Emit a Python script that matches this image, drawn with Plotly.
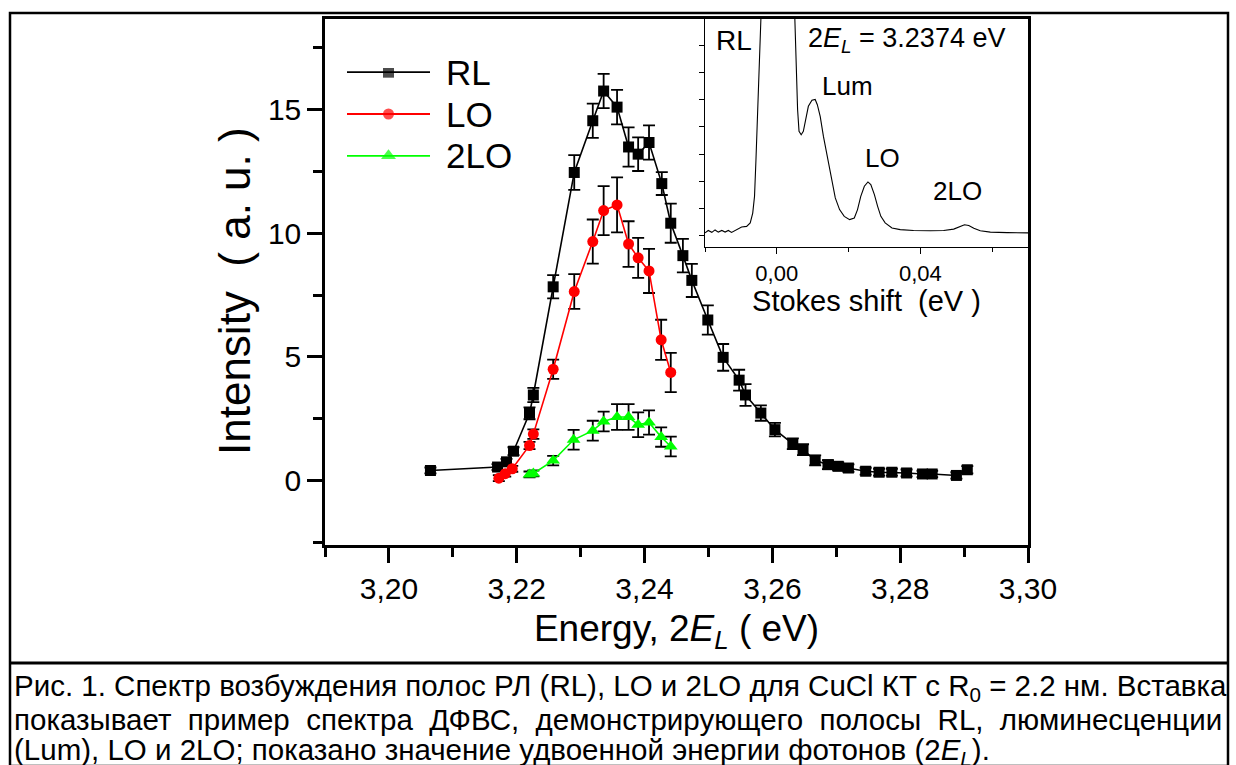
import plotly.graph_objects as go

W, H = 1236, 765

# main spectrum data
rl_x = [3.2065, 3.2170, 3.2184, 3.2195, 3.2220, 3.2226, 3.2257, 3.2290, 3.2319, 3.2336,
        3.2357, 3.2375, 3.2390, 3.2407, 3.2427, 3.2441, 3.2460, 3.2474, 3.2499, 3.2523,
        3.2548, 3.2558, 3.2582, 3.2604, 3.2632, 3.2648, 3.2667, 3.2687, 3.2703, 3.2719,
        3.2746, 3.2767, 3.2787, 3.2810, 3.2835, 3.2850, 3.2888, 3.2905]
rl_y = [0.41, 0.55, 0.76, 1.19, 2.72, 3.46, 7.83, 12.45, 14.54, 15.74,
        15.09, 13.48, 13.19, 13.66, 12.00, 10.40, 9.09, 8.09, 6.49, 4.98,
        4.06, 3.46, 2.73, 2.06, 1.49, 1.25, 0.82, 0.645, 0.58, 0.51,
        0.38, 0.34, 0.34, 0.31, 0.27, 0.27, 0.21, 0.44]
rl_err = [0.12, 0.12, 0.12, 0.16, 0.24, 0.29, 0.47, 0.70, 0.69, 0.69,
          0.70, 0.79, 0.68, 0.69, 0.46, 0.79, 0.68, 0.67, 0.59, 0.54,
          0.42, 0.44, 0.31, 0.27, 0.22, 0.22, 0.20, 0.18, 0.16, 0.15,
          0.14, 0.14, 0.14, 0.14, 0.13, 0.13, 0.13, 0.15]

lo_x = [3.2172, 3.2182, 3.2193, 3.2220, 3.2226, 3.2257, 3.2290, 3.2319, 3.2336, 3.2357,
        3.2375, 3.2390, 3.2407, 3.2426, 3.2441]
lo_y = [0.10, 0.28, 0.48, 1.42, 1.88, 4.50, 7.64, 9.66, 10.91, 11.14,
        9.56, 9.00, 8.47, 5.69, 4.37]
lo_err = [0.12, 0.12, 0.12, 0.15, 0.19, 0.39, 0.70, 0.89, 0.99, 1.11,
          0.92, 0.81, 0.89, 0.81, 0.79]

lo2_x = [3.2220, 3.2226, 3.2257, 3.2289, 3.2319, 3.2336, 3.2357, 3.2375, 3.2390, 3.2407,
         3.2426, 3.2441]
lo2_y = [0.25, 0.29, 0.81, 1.65, 2.02, 2.39, 2.57, 2.57, 2.26, 2.35, 1.76, 1.38]
lo2_err = [0.12, 0.12, 0.19, 0.40, 0.40, 0.40, 0.52, 0.52, 0.50, 0.49, 0.39, 0.40]

# inset: example spectrum vs Stokes shift
ins_x = [-0.0200, -0.0191, -0.0181, -0.0172, -0.0163, -0.0153, -0.0144, -0.0135, -0.0126, -0.0112,
         -0.0098, -0.0084, -0.0074, -0.0067, -0.0062, -0.0058, -0.0053, -0.0048, -0.0044, 0.0,
         0.0049, 0.0053, 0.0058, 0.0062, 0.0068, 0.0074, 0.0081, 0.0088, 0.0098, 0.0107,
         0.0113, 0.0121, 0.0130, 0.0140, 0.0151, 0.0163, 0.0175, 0.0188, 0.0203, 0.0216,
         0.0225, 0.0234, 0.0244, 0.0254, 0.0262, 0.0272, 0.0281, 0.0290, 0.0302, 0.0321,
         0.0344, 0.0381, 0.0428, 0.0465, 0.0493, 0.0509, 0.0523, 0.0535, 0.0549, 0.0567,
         0.0595, 0.0642, 0.0702]
ins_y = [0.09, 0.18, 0.11, 0.20, 0.12, 0.18, 0.12, 0.18, 0.11, 0.21,
         0.31, 0.33, 0.46, 0.82, 1.44, 2.79, 4.64, 6.48, 8.08, 30.0,
         8.08, 6.48, 4.64, 3.84, 3.71, 3.84, 4.27, 4.76, 4.98, 5.01,
         4.82, 4.39, 3.65, 2.92, 2.18, 1.38, 0.95, 0.70, 0.58, 0.64,
         0.95, 1.44, 1.81, 1.97, 1.87, 1.50, 1.07, 0.70, 0.46, 0.27,
         0.21, 0.18, 0.17, 0.18, 0.23, 0.33, 0.39, 0.36, 0.26, 0.17,
         0.12, 0.10, 0.09]

legend_names = ["RL", "LO", "2LO"]
legend_colors = ["black", "red", "#00ff00"]
legend_symbols = ["square", "circle", "triangle-up"]

FONT = "Arial, Liberation Sans, sans-serif"


def px(x):
    return x / W


def py(y):
    return 1 - y / H


fig = go.Figure()

series = [(rl_x, rl_y, rl_err), (lo_x, lo_y, lo_err), (lo2_x, lo2_y, lo2_err)]
for (sx, sy, se), name, col, sym in zip(series, legend_names, legend_colors, legend_symbols):
    fig.add_trace(go.Scatter(
        x=sx, y=sy, name=name, mode="lines+markers",
        line=dict(color=col, width=1.6),
        marker=dict(symbol=sym, size=11 if sym != "triangle-up" else 12, color=col,
                    line=dict(width=0)),
        error_y=dict(type="data", array=se, visible=True, color="black",
                     thickness=1.8, width=6),
        xaxis="x", yaxis="y", showlegend=False,
    ))

fig.add_trace(go.Scatter(x=ins_x, y=ins_y, mode="lines", line=dict(color="black", width=1.1),
                         xaxis="x2", yaxis="y2", showlegend=False))

# hand-made legend with long line samples
for i, (name, col, sym) in enumerate(zip(legend_names, legend_colors, legend_symbols)):
    fig.add_trace(go.Scatter(
        x=[0, 0.5, 1], y=[i, i, i], mode="lines+markers",
        line=dict(color=col, width=1.8),
        marker=dict(symbol=sym, size=[0, 11 if i < 2 else 13, 0], color=col, line=dict(width=0)),
        xaxis="x3", yaxis="y3", showlegend=False, hoverinfo="skip",
    ))
    fig.add_annotation(x=1, y=i, xref="x3", yref="y3", text=name, showarrow=False,
                       xanchor="left", xshift=14, font=dict(size=35, color="black", family=FONT))

axis_common = dict(showline=True, linecolor="black", showgrid=False, zeroline=False,
                   ticks="outside", tickcolor="black", automargin=False)

fig.update_layout(
    width=W, height=H, autosize=False,
    margin=dict(l=0, r=0, t=0, b=0, pad=0, autoexpand=False),
    paper_bgcolor="white", plot_bgcolor="white",
    separators=", ",
    font=dict(family=FONT, color="black"),
    xaxis=dict(domain=[px(325), px(1028)], range=[3.19, 3.30], dtick=0.02, tick0=3.20,
               tickformat=".2f", linewidth=2.5, mirror=True, ticklen=15, tickwidth=2.5,
               tickfont=dict(size=30), anchor="y",
               minor=dict(ticks="outside", dtick=0.01, ticklen=9, tickwidth=2.5, tickcolor="black"),
               title=dict(text="Energy, 2<i>E</i><sub><i>L</i></sub> ( eV)", font=dict(size=37), standoff=12),
               **axis_common),
    yaxis=dict(domain=[py(545), py(19)], range=[-2.6, 18.65], dtick=5, tick0=0,
               linewidth=2.5, mirror=True, ticklen=15, tickwidth=2.5, tickfont=dict(size=30),
               anchor="x",
               minor=dict(ticks="outside", dtick=2.5, ticklen=9, tickwidth=2.5, tickcolor="black"),
               **axis_common),
    xaxis2=dict(domain=[px(705), px(1028)], range=[-0.02, 0.07], dtick=0.04, tick0=0,
                tickformat=".2f", linewidth=1.2, ticklen=6, tickwidth=1.2, tickfont=dict(size=22),
                anchor="y2", mirror=True,
                minor=dict(ticks="outside", dtick=0.02, ticklen=4, tickwidth=1.2, tickcolor="black"),
                title=dict(text="Stokes shift  (eV )", font=dict(size=29), standoff=2),
                **axis_common),
    yaxis2=dict(domain=[py(247), py(19)], range=[-0.43, 7.98], dtick=1, tick0=0,
                showticklabels=False, linewidth=1.2, ticklen=5, tickwidth=1.2,
                anchor="x2", mirror=True, **axis_common),
    xaxis3=dict(domain=[px(347), px(430)], range=[0, 1], visible=False, anchor="y3", automargin=False),
    yaxis3=dict(domain=[py(160), py(68)], range=[2.1, -0.1], visible=False, anchor="x3", automargin=False),
)

# y axis title, placed like the reference (slightly below the axis centre)
fig.add_annotation(x=px(234), y=py(291), xref="paper", yref="paper", text="Intensity  ( a. u. )",
                   textangle=-90, showarrow=False, xanchor="center", yanchor="middle",
                   font=dict(size=44, family=FONT, color="black"))

# inset labels
inset_labels = [
    (-0.0175, 7.2, "RL", 28),
    (0.0082, 7.2, "2<i>E</i><sub><i>L</i></sub> = 3.2374 eV", 27),
    (0.0120, 5.5, "Lum", 26),
    (0.0240, 2.85, "LO", 26),
    (0.0430, 1.65, "2LO", 26),
]
for lx, ly, txt, fs in inset_labels:
    fig.add_annotation(x=lx, y=ly, xref="x2", yref="y2", text=txt, showarrow=False,
                       xanchor="left", font=dict(size=fs, family=FONT, color="black"))

# outer frame and caption box
fig.add_shape(type="rect", xref="paper", yref="paper", x0=px(10), x1=px(1228), y0=py(766), y1=py(13),
              line=dict(color="black", width=2.5), layer="above")
fig.add_shape(type="line", xref="paper", yref="paper", x0=px(10), x1=px(1228), y0=py(663), y1=py(663),
              line=dict(color="black", width=3), layer="above")

nb = " \u00a0"
caption = [
    "Рис. 1. Спектр возбуждения полос РЛ (RL), LO и 2LO для CuCl КТ с R<sub>0</sub> = 2.2 нм. Вставка",
    nb.join("показывает пример спектра ДФВС, демонстрирующего полосы RL, люминесценции".split(" ")),
    "(Lum), LO и 2LO; показано значение удвоенной энергии фотонов (2<i>E</i><sub><i>L</i></sub>).",
]
for i, line in enumerate(caption):
    fig.add_annotation(x=px(12), y=py(687 + 32 * i), xref="paper", yref="paper", text=line,
                       showarrow=False, xanchor="left", yanchor="middle",
                       font=dict(size=29.5, family=FONT, color="black"))

fig.write_html("out.html", config={"displayModeBar": False},
               post_script="document.body.style.margin='0';document.body.style.overflow='hidden';")
